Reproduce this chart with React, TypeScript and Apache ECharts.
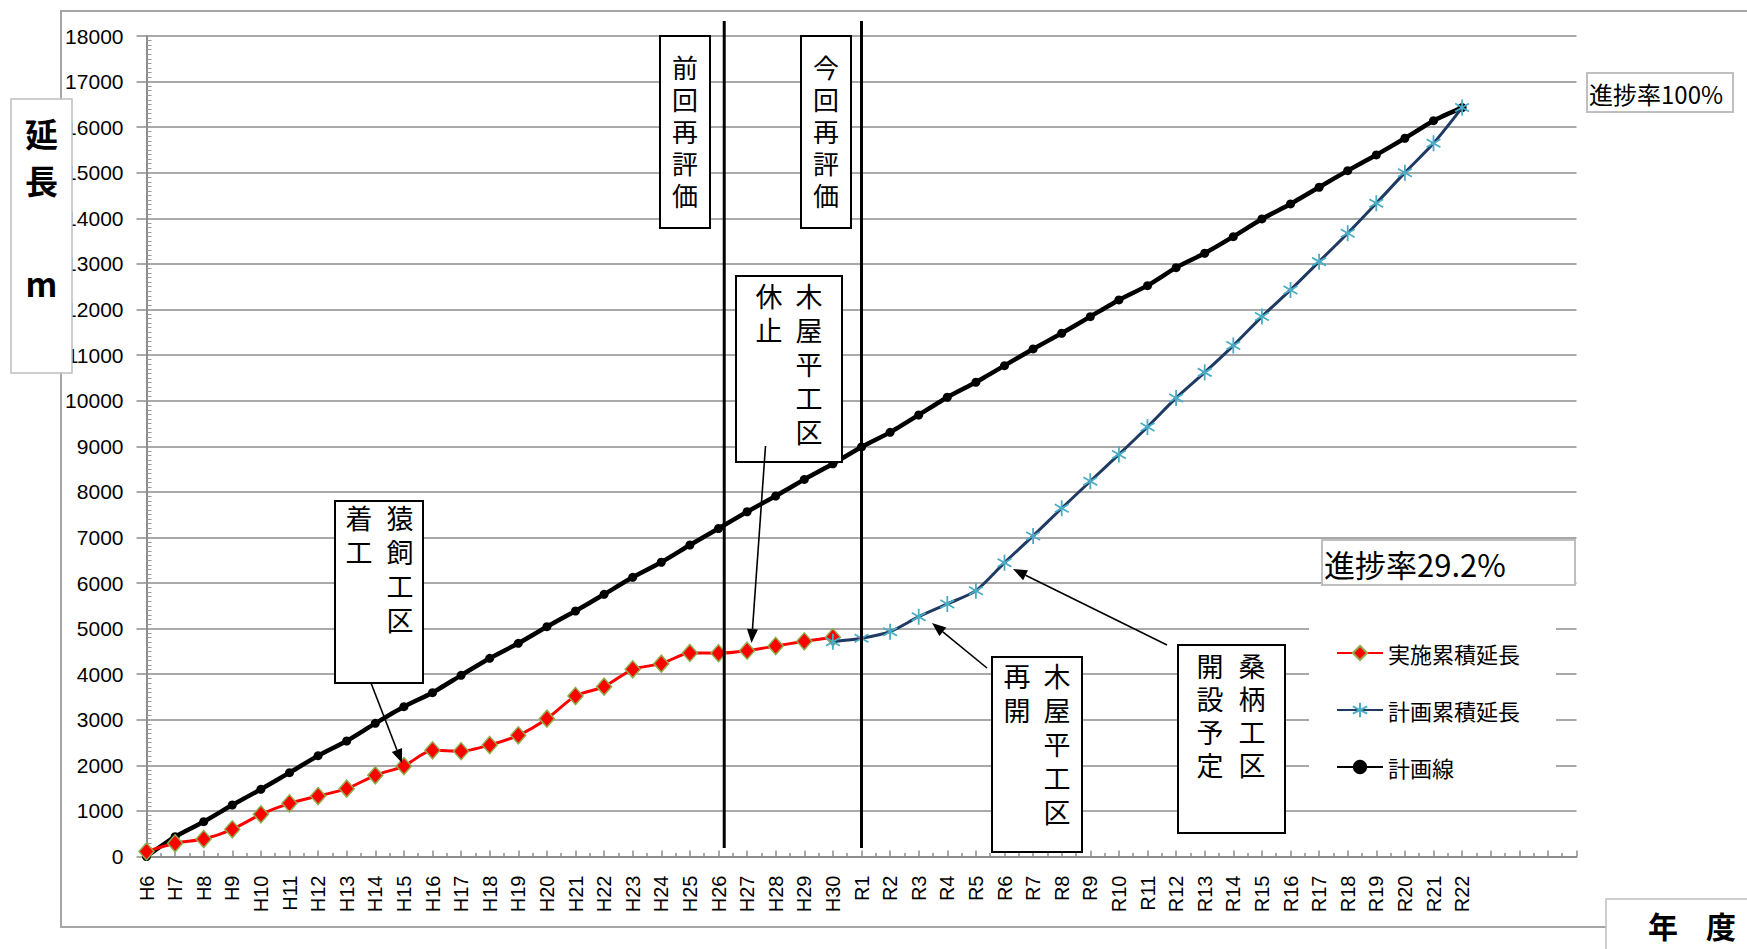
import React, { useEffect, useRef } from 'react';
import * as echarts from 'echarts';

// ---- categories (fiscal years) ----
const H_YEARS = ['H6','H7','H8','H9','H10','H11','H12','H13','H14','H15','H16','H17','H18','H19','H20','H21','H22','H23','H24','H25','H26','H27','H28','H29','H30'];
const R_YEARS = ['R1','R2','R3','R4','R5','R6','R7','R8','R9','R10','R11','R12','R13','R14','R15','R16','R17','R18','R19','R20','R21','R22'];
const categories = [...H_YEARS, ...R_YEARS];

// ---- series values (m) ----
// 計画線 : H6 .. R22
const planLine = [
  0, 435, 764, 1130, 1474, 1839, 2212, 2534, 2922, 3287,
  3594, 3975, 4348, 4677, 5042, 5386, 5752, 6125, 6455, 6834,
  7196, 7563, 7909, 8273, 8615, 8985, 9305, 9686, 10075, 10404,
  10768, 11134, 11479, 11843, 12209, 12523, 12918, 13234, 13598, 13986,
  14315, 14682, 15046, 15391, 15757, 16143, 16430,
];
// 実施累積延長 : H6 .. H30
const actualStart = 'H6';
const actualCum = [
  110, 290, 384, 597, 926, 1167, 1327, 1488, 1781, 1985,
  2330, 2310, 2446, 2659, 3024, 3521, 3726, 4107, 4230, 4465,
  4460, 4515, 4618, 4721, 4809,
];
// 計画累積延長 : H30 .. R22
const planCumStart = 'H30';
const planCum = [
  4713, 4787, 4932, 5261, 5540, 5832, 6446, 7032, 7640, 8232,
  8820, 9423, 10060, 10621, 11209, 11845, 12429, 13050, 13673, 14331,
  15002, 15647, 16430,
];

const X_MAX = 50;
const Y_MAX = 18000;
const Y_STEP = 1000;
const PREV_EVAL_POS = 20.2; // 前回再評価 (just after H26)
const CURR_EVAL_POS = categories.indexOf('R1'); // 今回再評価

const toPairs = (start: string, vals: number[]) => {
  const s = categories.indexOf(start);
  return vals.map((v, i) => [s + i, v]);
};

const JP = '"Noto Sans CJK JP", "Noto Sans", sans-serif';
const STAR = 'path://M10,0L10,20M1.34,5L18.66,15M1.34,15L18.66,5';

function arrow(x1: number, y1: number, x2: number, y2: number) {
  const dx = x2 - x1, dy = y2 - y1;
  const L = Math.hypot(dx, dy);
  const ux = dx / L, uy = dy / L;
  const hl = 14, hw = 5.5;
  const bx = x2 - ux * hl, by = y2 - uy * hl;
  return [
    { type: 'line', z: 110, shape: { x1, y1, x2: bx, y2: by }, style: { stroke: '#000', lineWidth: 1.6 } },
    { type: 'polygon', z: 110, shape: { points: [[x2, y2], [bx - uy * hw, by + ux * hw], [bx + uy * hw, by - ux * hw]] }, style: { fill: '#000' } },
  ];
}

function box(x: number, y: number, w: number, h: number, stroke = '#000', lw = 2) {
  return { type: 'rect', z: 100, shape: { x, y, width: w, height: h }, style: { fill: '#fff', stroke, lineWidth: lw } };
}

// vertical text: one text element per character
function vtext(t: string, x: number, top: number, size = 27, lh = 34) {
  return t.split('').map((ch, i) => ({
    type: 'text', z: 105, x, y: top + lh * i + lh / 2 - 2,
    style: { text: ch, font: `${size}px ${JP}`, lineHeight: size, align: 'center', verticalAlign: 'middle', fill: '#000' },
  }));
}

function htext(t: string, x: number, y: number, size: number, bold = false, align = 'left') {
  return {
    type: 'text', z: 105, x, y,
    style: { text: t, font: `${bold ? 'bold ' : ''}${size}px ${JP}`, lineHeight: size, align, verticalAlign: 'middle', fill: '#000' },
  };
}

export default function App() {
  const ref = useRef<HTMLDivElement>(null);
  useEffect(() => {
    if (!ref.current) return;
    const chart = echarts.init(ref.current, undefined, { renderer: 'svg' });
    const axisGray = '#8c8c8c';
    chart.setOption({
      animation: false,
      backgroundColor: '#fff',
      grid: { left: 146.5, right: 170.5, top: 36, bottom: 92.5 },
      xAxis: {
        type: 'value', min: 0, max: X_MAX, interval: 1,
        axisLine: { show: true, lineStyle: { color: axisGray, width: 2 } },
        axisTick: { show: true, inside: true, length: 6, lineStyle: { color: axisGray, width: 1.5 } },
        minorTick: { show: true, splitNumber: 2, length: 3.5, lineStyle: { color: axisGray, width: 1.5 } },
        splitLine: { show: false },
        axisLabel: {
          rotate: 90, margin: 19, fontSize: 20, color: '#000', fontFamily: '"Liberation Sans", sans-serif',
          customValues: categories.map((_, i) => i),
          formatter: (v: number) => categories[Math.round(v)] ?? '',
        },
      },
      yAxis: [
        {
          type: 'value', min: 0, max: Y_MAX, interval: Y_STEP,
          axisLine: { show: true, lineStyle: { color: axisGray, width: 2 } },
          axisTick: { show: true, inside: false, length: 10, lineStyle: { color: axisGray, width: 1.5 } },
          splitLine: { show: true, lineStyle: { color: axisGray, width: 1.5 } },
          axisLabel: {
            margin: 23, fontSize: 21, color: '#000', fontFamily: '"Liberation Sans", sans-serif',
            formatter: (v: number) => String(v),
          },
        },
        {
          type: 'value', min: 0, max: Y_MAX, interval: Y_STEP, position: 'left',
          axisLine: { show: false },
          axisTick: { show: false, inside: true },
          minorTick: { show: true, splitNumber: 10, length: 5, lineStyle: { color: '#9a9a9a', width: 1 } },
          splitLine: { show: false },
          axisLabel: { show: false },
        },
      ],
      legend: {
        orient: 'vertical', left: 1309, top: 628,
        padding: [14, 36, 12, 27], itemGap: 35, itemWidth: 46, itemHeight: 18,
        backgroundColor: '#fff',
        textStyle: { fontSize: 22, fontFamily: JP, color: '#000' },
        data: ['実施累積延長', '計画累積延長', '計画線'],
      },
      series: [
        {
          name: '計画線', type: 'line', data: toPairs('H6', planLine), smooth: 0.2,
          lineStyle: { color: '#000', width: 4.5 },
          symbol: 'circle', symbolSize: 9, itemStyle: { color: '#000' }, z: 2,
        },
        {
          name: '実施累積延長', type: 'line', data: toPairs(actualStart, actualCum), smooth: 0.25,
          lineStyle: { color: '#ff0000', width: 3 },
          symbol: 'diamond', symbolSize: [15, 17],
          itemStyle: { color: '#ff0000', borderColor: '#8fae4b', borderWidth: 1.5 }, z: 3,
        },
        {
          name: '計画累積延長', type: 'line', data: toPairs(planCumStart, planCum), smooth: 0.25,
          lineStyle: { color: '#1f3a63', width: 3 },
          symbol: STAR, symbolSize: 16, symbolKeepAspect: true,
          itemStyle: { color: '#4bacc6', borderColor: '#4bacc6', borderWidth: 1.8 }, z: 4,
        },
      ],
    });

    const px = (xv: number) => (chart.convertToPixel({ gridIndex: 0 }, [xv, 0]) as number[])[0];
    const xPrev = px(PREV_EVAL_POS);
    const xCurr = px(CURR_EVAL_POS);

    const elements: any[] = [
      // outer chart border
      { type: 'polyline', z: 90, shape: { points: [[1750, 11], [61, 11], [61, 927], [1606, 927]] }, style: { stroke: '#a6a6a6', lineWidth: 2, fill: 'none' } },
      // evaluation lines
      { type: 'line', z: 95, shape: { x1: xPrev, y1: 21, x2: xPrev, y2: 848 }, style: { stroke: '#000', lineWidth: 3 } },
      { type: 'line', z: 95, shape: { x1: xCurr, y1: 21, x2: xCurr, y2: 848 }, style: { stroke: '#000', lineWidth: 3 } },
      // y-axis title
      box(11, 99, 61, 274, '#bfbfbf', 1.5),
      htext('延', 41.5, 133, 33, true, 'center'),
      htext('長', 41.5, 180, 33, true, 'center'),
      htext('m', 41.5, 283, 33, true, 'center'),
      // x-axis title
      box(1606, 899, 160, 60, '#bfbfbf', 1.5),
      htext('年', 1663, 925, 30, true, 'center'),
      htext('度', 1721, 925, 30, true, 'center'),
      // progress labels
      box(1587, 73, 146, 39, '#bfbfbf', 2),
      htext('進捗率100%', 1589, 93, 24),
      box(1322, 540, 253, 45, '#bfbfbf', 2),
      htext('進捗率29.2%', 1324, 563, 31),
      // 前回再評価 / 今回再評価
      box(660, 36, 50, 192),
      ...vtext('前回再評価', 685, 52, 26, 32),
      box(801, 36, 50, 192),
      ...vtext('今回再評価', 826, 52, 26, 32),
      // 木屋平工区 休止
      box(736, 276, 106, 186),
      ...vtext('木屋平工区', 809, 280),
      ...vtext('休止', 769, 280),
      ...arrow(765.5, 446, 751.5, 643),
      // 猿飼工区 着工
      box(335, 501, 88, 182),
      ...vtext('猿飼工区', 400, 502),
      ...vtext('着工', 359, 502),
      ...arrow(371, 683, 402, 763),
      // 木屋平工区 再開
      box(992, 657, 90, 195),
      ...vtext('木屋平工区', 1057, 660),
      ...vtext('再開', 1017, 660),
      ...arrow(987, 668, 932, 623),
      // 桑柄工区 開設予定
      box(1178, 645, 107, 188),
      ...vtext('桑柄工区', 1252, 651, 27, 33),
      ...vtext('開設予定', 1210, 651, 27, 33),
      ...arrow(1167, 645, 1013, 569),
    ];
    chart.setOption({ graphic: { elements } });

    return () => chart.dispose();
  }, []);

  return (
    <div
      ref={ref}
      style={{ position: 'fixed', left: 0, top: 0, width: 1747, height: 949, background: '#fff' }}
    />
  );
}
